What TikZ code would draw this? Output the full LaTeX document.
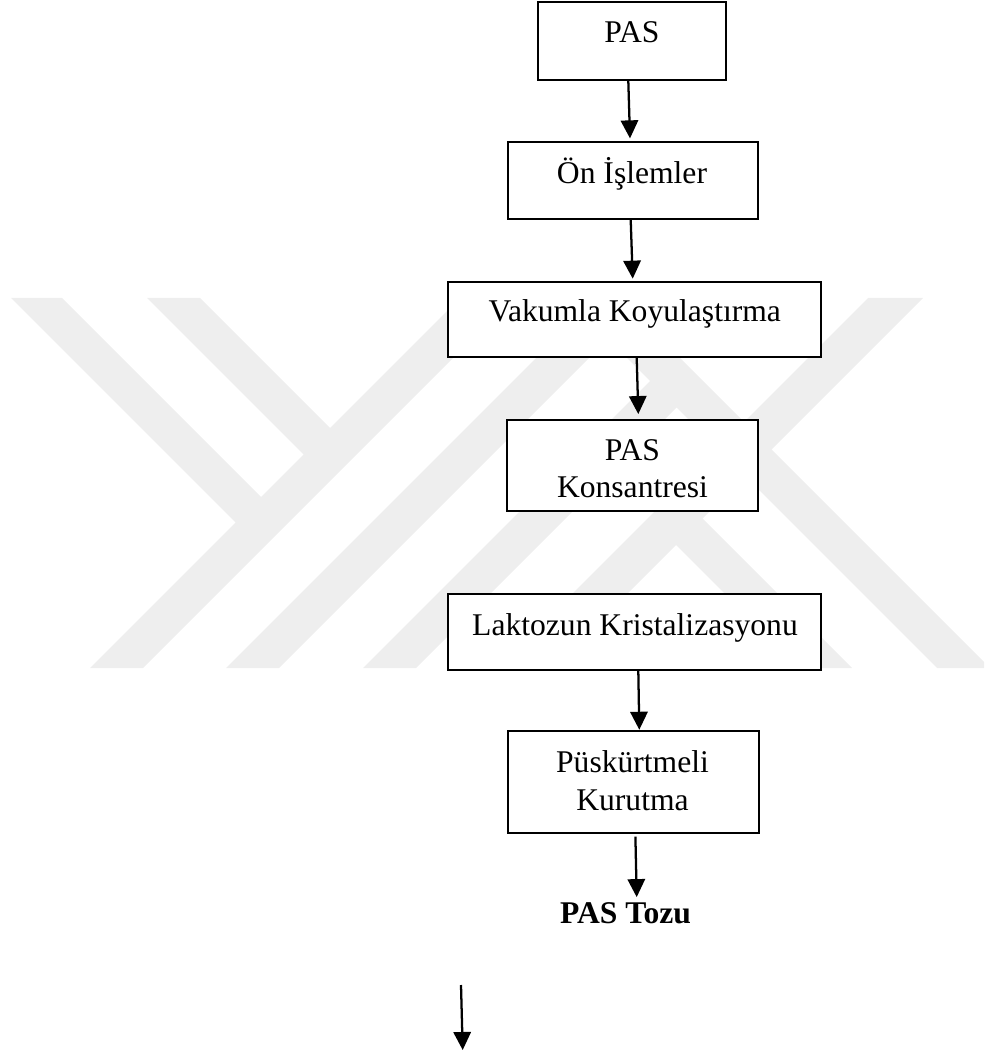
\documentclass[tikz,border=0pt]{standalone}
\usepackage{fontspec}
\setmainfont{Liberation Serif}
\usetikzlibrary{arrows.meta,calc}
\definecolor{wmgray}{RGB}{238,238,238}
\begin{document}
\begin{tikzpicture}[x=0.75pt,y=-0.75pt,
  every node/.style={font=\fontsize{23.7}{28}\selectfont,inner sep=0pt},
  stepbox/.style={draw=black,line width=1.4pt,fill=white,rectangle,inner sep=0pt},
  lbl/.style={anchor=base},
  conn/.style={line width=1.7pt,-{Triangle[length=13.5pt,width=13pt]}}]
\useasboundingbox (0,0) rectangle (984,1055);

% light background emblem made of diagonal bands
\begin{scope}
  \clip (0,298) rectangle (984,668);
  \fill[wmgray] (90,668) -- (143,668) -- (513,298) -- (460,298) -- cycle;
  \fill[wmgray] (226,668) -- (279,668) -- (649,298) -- (596,298) -- cycle;
  \fill[wmgray] (363,668) -- (416,668) -- (689.75,394.25) -- (663.25,367.75) -- cycle;
  \fill[wmgray] (498,668) -- (553,668) -- (923,298) -- (868,298) -- cycle;
  \fill[wmgray] (11,298) -- (62,298) -- (274,510) -- (248.5,535.5) -- cycle;
  \fill[wmgray] (147,298) -- (200,298) -- (343,441) -- (316.5,467.5) -- cycle;
  \fill[wmgray] (567,298) -- (620,298) -- (990,668) -- (937,668) -- cycle;
  \fill[wmgray] (662.25,531.25) -- (688.75,504.75) -- (852,668) -- (799,668) -- cycle;
\end{scope}

% process boxes
\node[stepbox,minimum width=141pt,minimum height=58.5pt] (b1) at (632,41) {};
\node[stepbox,minimum width=187.5pt,minimum height=57.75pt] (b2) at (633,180.5) {};
\node[stepbox,minimum width=279.75pt,minimum height=56.25pt] (b3) at (634.5,319.5) {};
\node[stepbox,minimum width=188.25pt,minimum height=68.25pt] (b4) at (632.8,465.5) {};
\node[stepbox,minimum width=279.3pt,minimum height=57pt] (b5) at (634.5,632) {};
\node[stepbox,minimum width=188pt,minimum height=76.5pt] (b6) at (633.7,781.7) {};

% box labels
\node[lbl] (t1) at (632,42.7) {PAS};
\node[lbl] (t2) at (632,183.3) {Ön İşlemler};
\node[lbl] (t3) at (634.8,321.7) {Vakumla Koyulaştırma};
\node[lbl] (t4a) at (632.5,460) {PAS};
\node[lbl] (t4b) at (632.5,497.3) {Konsantresi};
\node[lbl] (t5) at (635,635) {Laktozun Kristalizasyonu};
\node[lbl] (t6a) at (632.5,772.7) {Püskürtmeli};
\node[lbl] (t6b) at (632.5,810) {Kurutma};
\node[lbl,font=\fontsize{23.7}{28}\selectfont\bfseries] (tozu) at (625.5,923.3) {PAS Tozu};

% flow arrows
\draw[conn] ($(b1.south)+(-3.7,0)$) -- ($(b2.north)+(-3,-2.7)$);
\draw[conn] ($(b2.south)+(-2.3,0)$) -- ($(b3.north)+(-1.8,-2.4)$);
\draw[conn] ($(b3.south)+(2.2,0)$) -- ($(b4.north)+(5.5,-5)$);
\draw[conn] ($(b5.south)+(3.8,0)$) -- ($(b6.north)+(5.6,0)$);
\draw[conn] ($(b6.south)+(1.7,3)$) -- ($(tozu.north)+(11.2,-5)$);

% loose arrow below
\coordinate (s1) at (461,985);
\coordinate (s2) at (462.7,1050);
\draw[conn] (s1) -- (s2);
\end{tikzpicture}
\end{document}
